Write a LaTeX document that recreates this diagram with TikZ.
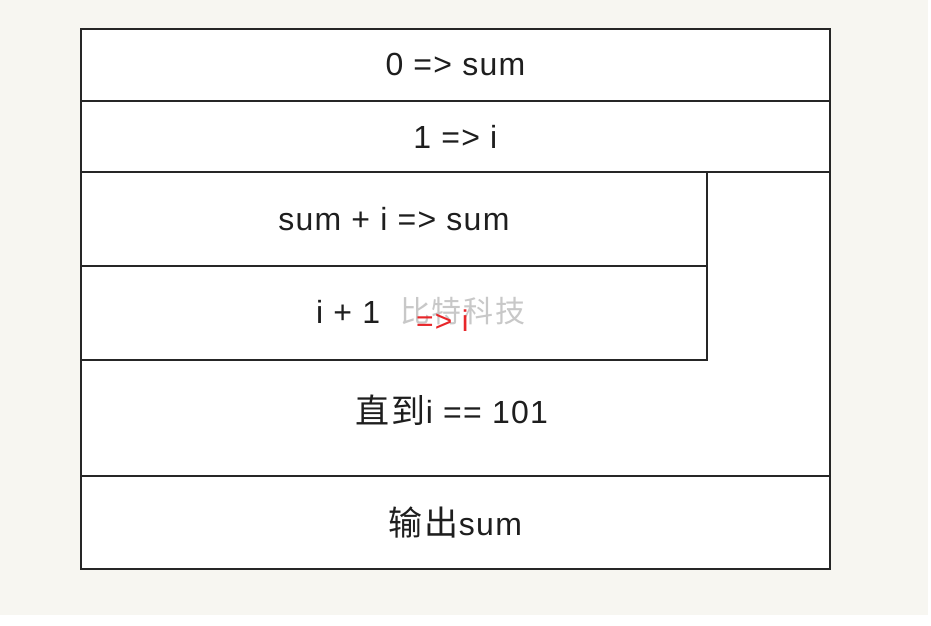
\documentclass[tikz,border=0pt]{standalone}
\usepackage{fontspec}
\setmainfont{Liberation Sans}[LetterSpace=4]
\newfontfamily\cjk{Noto Sans CJK SC}[LetterSpace=6]
\definecolor{bgc}{HTML}{F7F6F1}
\definecolor{linec}{HTML}{262626}
\definecolor{txtc}{HTML}{1E1E1E}
\definecolor{wmc}{HTML}{C8C8C8}
\definecolor{redc}{HTML}{E8262A}
\begin{document}
\begin{tikzpicture}[x=1pt,y=-1pt,
  blk/.style={draw=linec,line width=1.8pt,fill=white,rectangle,inner sep=0pt,anchor=north west},
  lbl/.style={text=txtc,font=\fontsize{32}{38}\selectfont,inner sep=0pt}]
\useasboundingbox (0,0) rectangle (931,625);
\fill[white] (0,0) rectangle (931,625);
\fill[bgc] (0,0) rectangle (928,615);
% blocks
\node[blk,minimum width=749pt,minimum height=304pt] (loop) at (80,171) {};
\node[blk,minimum width=749pt,minimum height=72pt] (r1) at (80,28) {};
\node[blk,minimum width=749pt,minimum height=71pt] (r2) at (80,100) {};
\node[blk,minimum width=626pt,minimum height=94pt] (b1) at (80,171) {};
\node[blk,minimum width=626pt,minimum height=94pt] (b2) at (80,265) {};
\node[blk,minimum width=749pt,minimum height=93pt] (r6) at (80,475) {};
% texts
\node[lbl] (t1) at (r1.center) {0 => sum};
\node[lbl] (t2) at (r2.center) {1 => i};
\node[lbl] (t3) at (b1.center) {sum + i => sum};
\node[lbl,anchor=base west] (t4) at (316,323) {i + 1};
\node[text=wmc,font=\cjk\fontsize{30}{34}\selectfont,inner sep=0pt,anchor=base west] (wm) at (400,322) {比特科技};
\node[text=redc,font=\fontsize{30}{36}\selectfont,inner sep=0pt,anchor=base west] (t4r) at (416,331) {=> i};
\node[lbl] (t5) at (452,410) {{\cjk\fontsize{34}{38}\selectfont 直到}i == 101};
\node[lbl] (t6) at (r6.center) {{\cjk\fontsize{34}{38}\selectfont 输出}sum};
\end{tikzpicture}
\end{document}
